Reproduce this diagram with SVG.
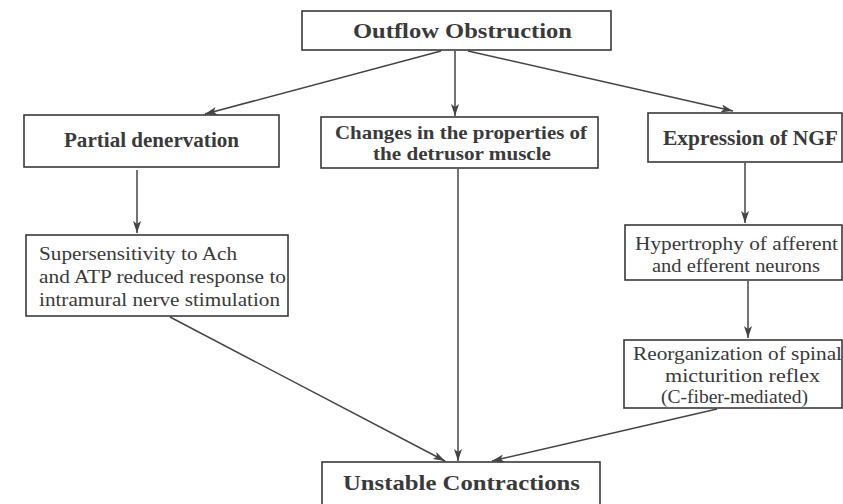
<svg xmlns="http://www.w3.org/2000/svg" width="843" height="504" viewBox="0 0 843 504">
<defs>
<style>
.box{fill:#fff;stroke:#3a3a3a;stroke-width:1.6}
.h{font-family:"Liberation Serif","Times New Roman",serif;font-weight:bold;font-size:21px;fill:#3a3a3a}
.t{font-family:"Liberation Serif","Times New Roman",serif;font-size:19px;fill:#3a3a3a}
.m{font-size:19px}
.c{stroke:#444;stroke-width:1.5;fill:none;marker-end:url(#ah)}
</style>
<marker id="ah" viewBox="0 0 12 8" refX="12" refY="4" markerWidth="12" markerHeight="8" markerUnits="userSpaceOnUse" orient="auto">
<path d="M0,0 L12,4 L0,8 L3,4 Z" fill="#444"/>
</marker>
</defs>
<rect width="843" height="504" fill="#fff"/>
<g id="connectors">
<line class="c" x1="441" y1="51" x2="205" y2="114"/>
<line class="c" x1="455" y1="51" x2="455" y2="116"/>
<line class="c" x1="468" y1="51" x2="733" y2="111"/>
<line class="c" x1="137" y1="170" x2="137" y2="233"/>
<line class="c" x1="170" y1="317" x2="445" y2="461"/>
<line class="c" x1="458" y1="169" x2="458" y2="461"/>
<line class="c" x1="745" y1="163" x2="745" y2="223"/>
<line class="c" x1="748" y1="281" x2="748" y2="338"/>
<line class="c" x1="717" y1="409" x2="492" y2="461"/>
</g>
<g id="outflow">
<rect class="box" x="302" y="11" width="309" height="39"/>
<text class="h" x="353" y="38" font-size="24" textLength="219" lengthAdjust="spacingAndGlyphs">Outflow Obstruction</text>
</g>
<g id="partial">
<rect class="box" x="24" y="115" width="255" height="52"/>
<text class="h" x="64" y="147" textLength="175" lengthAdjust="spacingAndGlyphs">Partial denervation</text>
</g>
<g id="changes">
<rect class="box" x="321" y="117" width="277" height="51"/>
<text class="h m" x="335" y="139" textLength="252" lengthAdjust="spacingAndGlyphs">Changes in the properties of</text>
<text class="h m" x="373" y="160" textLength="178" lengthAdjust="spacingAndGlyphs">the detrusor muscle</text>
</g>
<g id="ngf">
<rect class="box" x="648" y="113" width="194" height="49"/>
<text class="h" x="663" y="145" textLength="175" lengthAdjust="spacingAndGlyphs">Expression of NGF</text>
</g>
<g id="supersensitivity">
<rect class="box" x="26" y="235" width="262" height="81"/>
<text class="t" x="39" y="260" textLength="198" lengthAdjust="spacingAndGlyphs">Supersensitivity to Ach</text>
<text class="t" x="39" y="283" textLength="247" lengthAdjust="spacingAndGlyphs">and ATP reduced response to</text>
<text class="t" x="39" y="306" textLength="241" lengthAdjust="spacingAndGlyphs">intramural nerve stimulation</text>
</g>
<g id="hypertrophy">
<rect class="box" x="625" y="225" width="217" height="55"/>
<text class="t" x="635" y="250" textLength="203" lengthAdjust="spacingAndGlyphs">Hypertrophy of afferent</text>
<text class="t" x="652" y="272" textLength="168" lengthAdjust="spacingAndGlyphs">and efferent neurons</text>
</g>
<g id="reorganization">
<rect class="box" x="624" y="340" width="218" height="68"/>
<text class="t" x="633" y="360" textLength="209" lengthAdjust="spacingAndGlyphs">Reorganization of spinal</text>
<text class="t" x="665" y="382" textLength="155" lengthAdjust="spacingAndGlyphs">micturition reflex</text>
<text class="t" x="661" y="403" textLength="147" lengthAdjust="spacingAndGlyphs">(C-fiber-mediated)</text>
</g>
<g id="unstable">
<rect class="box" x="322" y="462" width="278" height="46"/>
<text class="h" x="343" y="490" font-size="24" textLength="237" lengthAdjust="spacingAndGlyphs">Unstable Contractions</text>
</g>
</svg>
